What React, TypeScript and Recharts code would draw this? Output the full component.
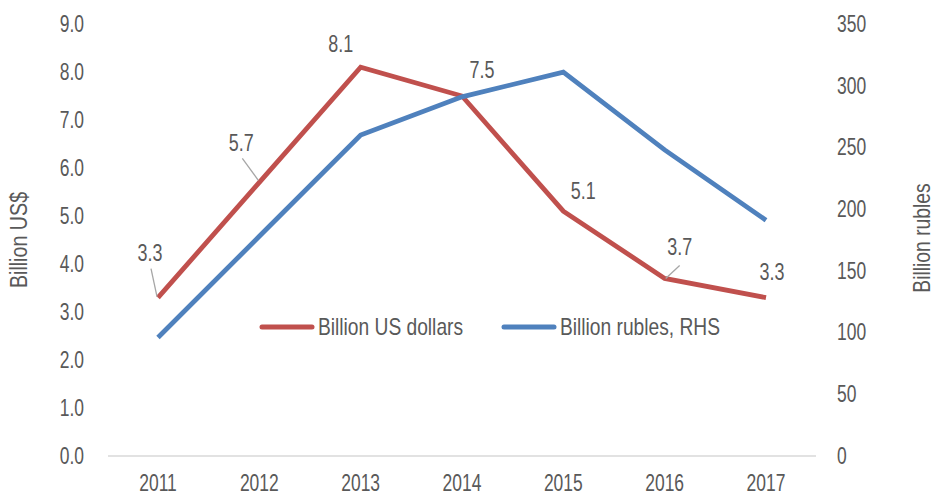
import React from 'react';
import { LineChart, Line, XAxis, YAxis } from 'recharts';

const years = ['2011', '2012', '2013', '2014', '2015', '2016', '2017'];
const usdValues = [3.3, 5.7, 8.1, 7.5, 5.1, 3.7, 3.3];
const rubValues = [96, 178, 260, 291, 311, 248, 191];
const leftTicks = [0, 1, 2, 3, 4, 5, 6, 7, 8, 9];
const rightTicks = [0, 50, 100, 150, 200, 250, 300, 350];

const data = years.map((y, i) => ({ year: y, usd: usdValues[i], rub: rubValues[i] }));

const FONT = '"Liberation Sans", Arial, sans-serif';
const TXT = '#595959';
const RED = '#c0504d';
const BLUE = '#4f81bd';
const SX = 0.76;

const Narrow = ({ x, y, anchor = 'middle', size = 23, sx = SX, rotate = 0, children }: any) => (
  <text
    transform={`translate(${x},${y})${rotate ? ` rotate(${rotate})` : ''} scale(${sx},1)`}
    textAnchor={anchor}
    dominantBaseline="central"
    fontSize={size}
    fill={TXT}
    fontFamily={FONT}
  >
    {children}
  </text>
);

// label center offsets relative to point; optional leader line (start/end offsets)
const labelOffsets = [
  { dx: -8, dy: -45, lead: [-7, -29, -1, -1] },
  { dx: -18, dy: -40, lead: [-17, -24, -1, -2] },
  { dx: -20, dy: -24, lead: null },
  { dx: 20, dy: -26, lead: null },
  { dx: 20, dy: -21, lead: null },
  { dx: 15, dy: -32, lead: [15, -13, 1, 0] },
  { dx: 6, dy: -26, lead: null },
];

const UsdLabel = (props: any) => {
  const { x, y, index, value } = props;
  const o = labelOffsets[index];
  return (
    <g>
      {o.lead && (
        <line x1={x + o.lead[0]} y1={y + o.lead[1]} x2={x + o.lead[2]} y2={y + o.lead[3]} stroke="#a6a6a6" strokeWidth={1.3} />
      )}
      <Narrow x={x + o.dx} y={y + o.dy} size={23} sx={0.78}>
        {Number(value).toFixed(1)}
      </Narrow>
    </g>
  );
};

const LeftTick = (props: any) => (
  <Narrow x={props.x} y={props.y} anchor="end">{Number(props.payload.value).toFixed(1)}</Narrow>
);
const RightTick = (props: any) => (
  <Narrow x={props.x} y={props.y} anchor="start">{props.payload.value}</Narrow>
);
const BottomTick = (props: any) => (
  <Narrow x={props.x} y={props.y} anchor="middle">{props.payload.value}</Narrow>
);

const LegendBox = () => (
  <svg width={708} height={30} style={{ display: 'block', position: 'absolute', left: 108, top: 312 }}>
    <line x1={154} y1={15} x2={204} y2={15} stroke={RED} strokeWidth={5} strokeLinecap="round" />
    <Narrow x={210} y={15} anchor="start" size={24} sx={0.8}>Billion US dollars</Narrow>
    <line x1={396} y1={15} x2={446} y2={15} stroke={BLUE} strokeWidth={5} strokeLinecap="round" />
    <Narrow x={452} y={15} anchor="start" size={24} sx={0.8}>Billion rubles, RHS</Narrow>
  </svg>
);

const LeftTitle = (props: any) => {
  const vb = props.viewBox || { x: 0, y: 24, width: 108, height: 432 };
  return (
    <Narrow x={vb.x + 19} y={vb.y + vb.height / 2} rotate={-90} size={24} sx={0.82}>Billion US$</Narrow>
  );
};

const RightTitle = (props: any) => {
  const vb = props.viewBox || { x: 816, y: 24, width: 120, height: 432 };
  return (
    <Narrow x={vb.x + 106} y={vb.y + vb.height / 2 - 2} rotate={-90} size={23} sx={0.84}>Billion rubles</Narrow>
  );
};

export default function App() {
  return (
    <div style={{ position: 'absolute', left: 0, top: 0, width: 936, height: 497, background: '#fff' }}>
      <LineChart width={936} height={497} data={data} margin={{ top: 24, right: 0, bottom: 0, left: 0 }}>
        <XAxis
          dataKey="year"
          padding={{ left: 50, right: 50 }}
          axisLine={{ stroke: '#d9d9d9', strokeWidth: 1.5 }}
          tickLine={false}
          tickSize={0}
          tickMargin={27}
          height={41}
          interval={0}
          tick={<BottomTick />}
        />
        <YAxis
          yAxisId="left"
          orientation="left"
          domain={[0, 9]}
          ticks={leftTicks}
          interval={0}
          width={108}
          axisLine={false}
          tickLine={false}
          tickSize={0}
          tickMargin={24}
          tick={<LeftTick />}
          label={<LeftTitle />}
        />
        <YAxis
          yAxisId="right"
          orientation="right"
          domain={[0, 350]}
          ticks={rightTicks}
          interval={0}
          width={120}
          axisLine={false}
          tickLine={false}
          tickSize={0}
          tickMargin={21}
          tick={<RightTick />}
          label={<RightTitle />}
        />
        <Line
          yAxisId="left"
          type="linear"
          dataKey="usd"
          stroke={RED}
          strokeWidth={4.8}
          dot={false}
          activeDot={false}
          isAnimationActive={false}
          label={<UsdLabel />}
        />
        <Line
          yAxisId="right"
          type="linear"
          dataKey="rub"
          stroke={BLUE}
          strokeWidth={4.8}
          dot={false}
          activeDot={false}
          isAnimationActive={false}
        />
      </LineChart>
      <LegendBox />
    </div>
  );
}
